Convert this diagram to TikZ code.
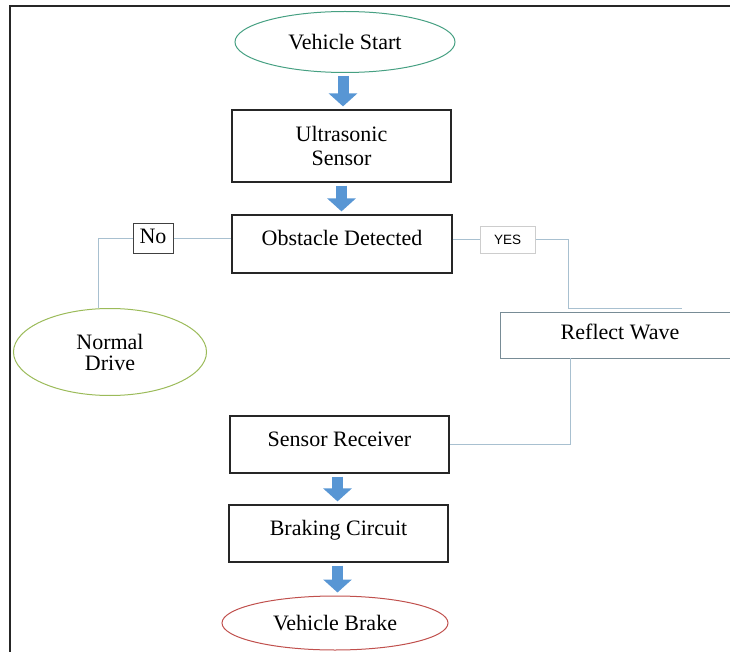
\documentclass[tikz,border=0pt]{standalone}
\usepackage{fontspec}
\setmainfont{Liberation Serif}
\newfontfamily\yesfont{Liberation Sans}
\usetikzlibrary{shapes.geometric,arrows.meta,calc}
\definecolor{startgreen}{RGB}{70,160,130}
\definecolor{olivegreen}{RGB}{155,187,89}
\definecolor{brakered}{RGB}{192,80,77}
\definecolor{linkblue}{RGB}{168,192,208}
\definecolor{arrowblue}{RGB}{88,150,212}
\definecolor{greyblue}{RGB}{120,140,150}
\definecolor{lightgrey}{RGB}{205,205,205}
\begin{document}
\begin{tikzpicture}[x=1pt,y=1pt,
  every node/.style={font=\fontsize{22}{24}\selectfont, inner sep=0pt},
  oval/.style={ellipse, draw, line width=1pt},
  procbox/.style={rectangle, draw=black!85, line width=1.2pt, text height=15pt, text depth=11pt},
  link/.style={draw=linkblue, line width=1pt},
  blockarrow/.style={draw=arrowblue, line width=11pt, -{Triangle[width=28pt,length=13pt]}, shorten <=3pt, shorten >=3pt},
  smallbox/.style={rectangle, draw, line width=1pt}
]
\useasboundingbox (0,0) rectangle (730,-652);
% frame
\draw[line width=2.4pt, black!85] (10,-652) -- (10,-6) -- (730,-6);

\node[oval, draw=startgreen, minimum width=220pt, minimum height=61pt] (start) at (345,-42) {Vehicle Start};
\node[rectangle, draw=black!85, line width=1.2pt, minimum width=219pt, minimum height=72pt, align=center] (us) at (341.5,-146) {Ultrasonic\\Sensor};
\node[procbox, minimum width=220pt, minimum height=58pt] (od) at (342,-244) {Obstacle Detected};
\node[smallbox, draw=black!75, minimum width=40pt, minimum height=29pt, text height=14pt, text depth=4pt] (no) at (153,-238.5) {No};
\node[smallbox, draw=lightgrey, minimum width=55pt, minimum height=26pt, font=\yesfont\fontsize{13.5}{15}\selectfont] (yes) at (507.5,-240) {YES};
\node[oval, draw=olivegreen, minimum width=193pt, minimum height=87pt, align=center, font=\fontsize{22}{21}\selectfont] (nd) at (110,-352) {Normal\\Drive};
\node[rectangle, draw=greyblue, line width=1pt, minimum width=240pt, minimum height=46pt, text height=15pt, text depth=6pt] (rw) at (620,-335) {Reflect Wave};
\node[procbox, minimum width=219pt, minimum height=57pt] (sr) at (339.5,-444.5) {Sensor Receiver};
\node[procbox, minimum width=219pt, minimum height=57pt] (bc) at (338.5,-533.5) {Braking Circuit};
\node[oval, draw=brakered, minimum width=226pt, minimum height=54pt] (vb) at (335,-623) {Vehicle Brake};

\coordinate (yturn) at (568,-308);
\coordinate (yend) at (682,-308);
\coordinate (rwb) at (570,-358);

% block arrows
\draw[blockarrow] ($(start.south)+(-2,0)$) -- ($(start.south |- us.north)+(-2,0)$);
\draw[blockarrow] (us.south) -- (us.south |- od.north);
\draw[blockarrow] ($(sr.south)+(-2,0)$) -- ($(sr.south |- bc.north)+(-2,0)$);
\draw[blockarrow] ($(bc.south)+(-1,0)$) -- ($(bc.south |- vb.north)+(-1,0)$);

% connectors
\draw[link] (no.east) -- (no.east -| od.west);
\draw[link] (no.west) -| ($(nd.north)+(-12,0)$);
\draw[link] (yes.west -| od.east) -- (yes.west);
\draw[link] (yes.east) -| (yturn) -- (yend);
\draw[link] (rwb) |- (sr.east);
\end{tikzpicture}
\end{document}
